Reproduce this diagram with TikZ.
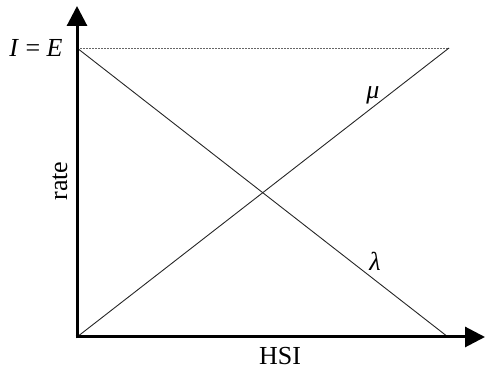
\documentclass[tikz,border=0pt]{standalone}
\usepackage{fontspec}
\setmainfont{Liberation Serif}
\usetikzlibrary{arrows.meta}
\begin{document}
\begin{tikzpicture}[x=1pt,y=1pt,
  axis/.style={line width=3pt,-{Triangle[length=20pt,width=20pt]}},
  curve/.style={line width=0.9pt,black!85},
  guide/.style={line width=0.9pt,black!60,dash pattern=on 2pt off 1pt},
  lbl/.style={font=\fontsize{26}{30}\selectfont,inner sep=0pt}]
\useasboundingbox (0,0) rectangle (485,369);
\coordinate (O) at (77,32);
\coordinate (Ytip) at (77,363);
\coordinate (Xtip) at (485,32);
\coordinate (TL) at (77,321);
\coordinate (TR) at (449,321);
\coordinate (BR) at (448,32);
\draw[guide] (TL) -- (TR);
\draw[curve] (TL) -- (BR);
\draw[curve] (O) -- (TR);
\draw[axis] (77,30.5) -- (Ytip);
\draw[axis] (75.5,32) -- (Xtip);
\node[lbl] (ie) at (36,321) {\textit{I} = \textit{E}};
\node[lbl,rotate=90] (rate) at (60,188) {rate};
\node[lbl] (hsi) at (280,13) {HSI};
\node[lbl] (mu) at (373,274) {\textit{μ}};
\node[lbl] (lam) at (375,108) {\textit{λ}};
\end{tikzpicture}
\end{document}
